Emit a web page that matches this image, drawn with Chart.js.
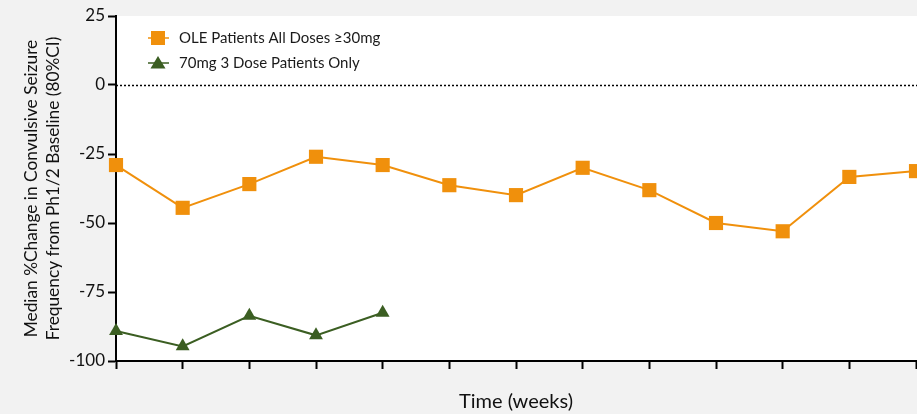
<!DOCTYPE html>
<html>
<head>
<meta charset="utf-8">
<script src="https://cdn.jsdelivr.net/npm/chart.js@4.4.1/dist/chart.umd.min.js"></script>
<style>
  html, body { margin: 0; padding: 0; background: #f2f2f2; }
  canvas { display: block; }
</style>
</head>
<body>
<canvas id="seizures" width="917" height="414"></canvas>
<script>
// time points (no week labels shown on the axis)
var timepoints = [0, 1, 2, 3, 4, 5, 6, 7, 8, 9, 10, 11, 12];
var oleAllDoses = [-29.0, -44.5, -35.9, -26.0, -29.0, -36.3, -39.9, -30.0, -38.1, -50.0, -53.0, -33.3, -31.2];
var mg70ThreeDose = [-89.1, -94.7, -83.6, -90.7, -82.5];
var seriesNames = ['OLE Patients All Doses \u226530mg', '70mg 3 Dose Patients Only'];
var yTicks = [25, 0, -25, -50, -75, -100];

var orange = '#f0900c';
var green = '#3b5e22';

function toPoints(vals) {
	var pts = [];
	for (var i in vals) {
		pts.push({x: timepoints[i], y: vals[i]});
	}
	return pts;
}

var plotDecor = {
	id: 'plotDecor',
	beforeDraw: function(chart) {
		var ctx = chart.ctx, a = chart.chartArea;
		ctx.save();
		ctx.fillStyle = '#f2f2f2';
		ctx.fillRect(0, 0, chart.width, chart.height);
		ctx.fillStyle = '#ffffff';
		ctx.fillRect(a.left, a.top, chart.width - a.left, a.bottom - a.top);
		ctx.restore();
	},
	beforeDatasetsDraw: function(chart) {
		// dotted zero line
		var ctx = chart.ctx, a = chart.chartArea;
		var y = Math.round(chart.scales.y.getPixelForValue(0)) + 0.5;
		ctx.save();
		ctx.strokeStyle = '#000';
		ctx.lineWidth = 1.5;
		ctx.setLineDash([2, 2]);
		ctx.beginPath();
		ctx.moveTo(a.left, y);
		ctx.lineTo(chart.width, y);
		ctx.stroke();
		ctx.restore();
	},
	afterDraw: function(chart) {
		// legend inside the plot, top left
		var ctx = chart.ctx, a = chart.chartArea;
		chart.data.datasets.forEach(function(ds, i) {
			var y = a.top + 22 + i * 25;
			var x = a.left + 42;
			ctx.save();
			ctx.strokeStyle = ds.borderColor;
			ctx.lineWidth = 1.5;
			ctx.beginPath();
			ctx.moveTo(x - 10, y);
			ctx.lineTo(x + 11, y);
			ctx.stroke();
			ctx.fillStyle = ds.backgroundColor;
			if (ds.pointStyle === 'rect') {
				ctx.fillRect(x - 7, y - 7, 14, 14);
			} else {
				ctx.beginPath();
				ctx.moveTo(x, y - 7);
				ctx.lineTo(x + 7.5, y + 5.5);
				ctx.lineTo(x - 7.5, y + 5.5);
				ctx.closePath();
				ctx.fill();
			}
			ctx.fillStyle = '#1a1a1a';
			ctx.font = '15px Lato';
			ctx.textBaseline = 'middle';
			ctx.textAlign = 'left';
			ctx.fillText(ds.label, x + 21, y);
			ctx.restore();
		});
	}
};

var chartdata = {
	datasets: [
		{
			label: seriesNames[0],
			data: toPoints(oleAllDoses),
			borderColor: orange,
			backgroundColor: orange,
			borderWidth: 2,
			pointStyle: 'rect',
			pointRadius: 10,
			pointBorderWidth: 0,
			pointHoverRadius: 10,
			clip: false
		},
		{
			label: seriesNames[1],
			data: toPoints(mg70ThreeDose),
			borderColor: green,
			backgroundColor: green,
			borderWidth: 2,
			pointStyle: 'triangle',
			pointRadius: 8,
			pointBorderWidth: 0,
			pointHoverRadius: 8,
			clip: false
		}
	]
};

var ctx = document.getElementById('seizures');

var lineGraph = new Chart(ctx, {
	type: 'line',
	data: chartdata,
	plugins: [plotDecor],
	options: {
		responsive: false,
		animation: false,
		layout: { autoPadding: false, padding: { top: 16, right: 1, left: 0, bottom: 0 } },
		plugins: {
			legend: { display: false },
			tooltip: { enabled: false }
		},
		scales: {
			x: {
				type: 'linear',
				min: timepoints[0],
				max: timepoints[timepoints.length - 1],
				grid: { drawOnChartArea: false, drawTicks: true, tickLength: 8, tickWidth: 2, tickColor: '#000' },
				border: { color: '#000', width: 2 },
				ticks: { stepSize: 1, padding: 0, callback: function() { return ''; } },
				title: {
					display: true,
					text: 'Time (weeks)',
					color: '#111',
					font: { family: 'Lato', size: 20 },
					padding: { top: 0, bottom: 0 }
				},
				afterFit: function(s) { s.height = 53; }
			},
			y: {
				min: yTicks[yTicks.length - 1],
				max: yTicks[0],
				grid: { drawOnChartArea: false, drawTicks: true, tickLength: 8, tickWidth: 2, tickColor: '#000' },
				border: { color: '#000', width: 2 },
				ticks: {
					stepSize: 25,
					color: '#111',
					padding: 3,
					font: { family: 'Lato', size: 17 }
				},
				title: {
					display: true,
					text: ['Median %Change in Convulsive Seizure', 'Frequency from Ph1/2 Baseline (80%CI)'],
					color: '#111',
					font: { family: 'Lato', size: 17.3, lineHeight: 1.3 },
					padding: { top: 20, bottom: 0 }
				},
				afterFit: function(s) { s.width = 116; }
			}
		}
	}
});
</script>
</body>
</html>
